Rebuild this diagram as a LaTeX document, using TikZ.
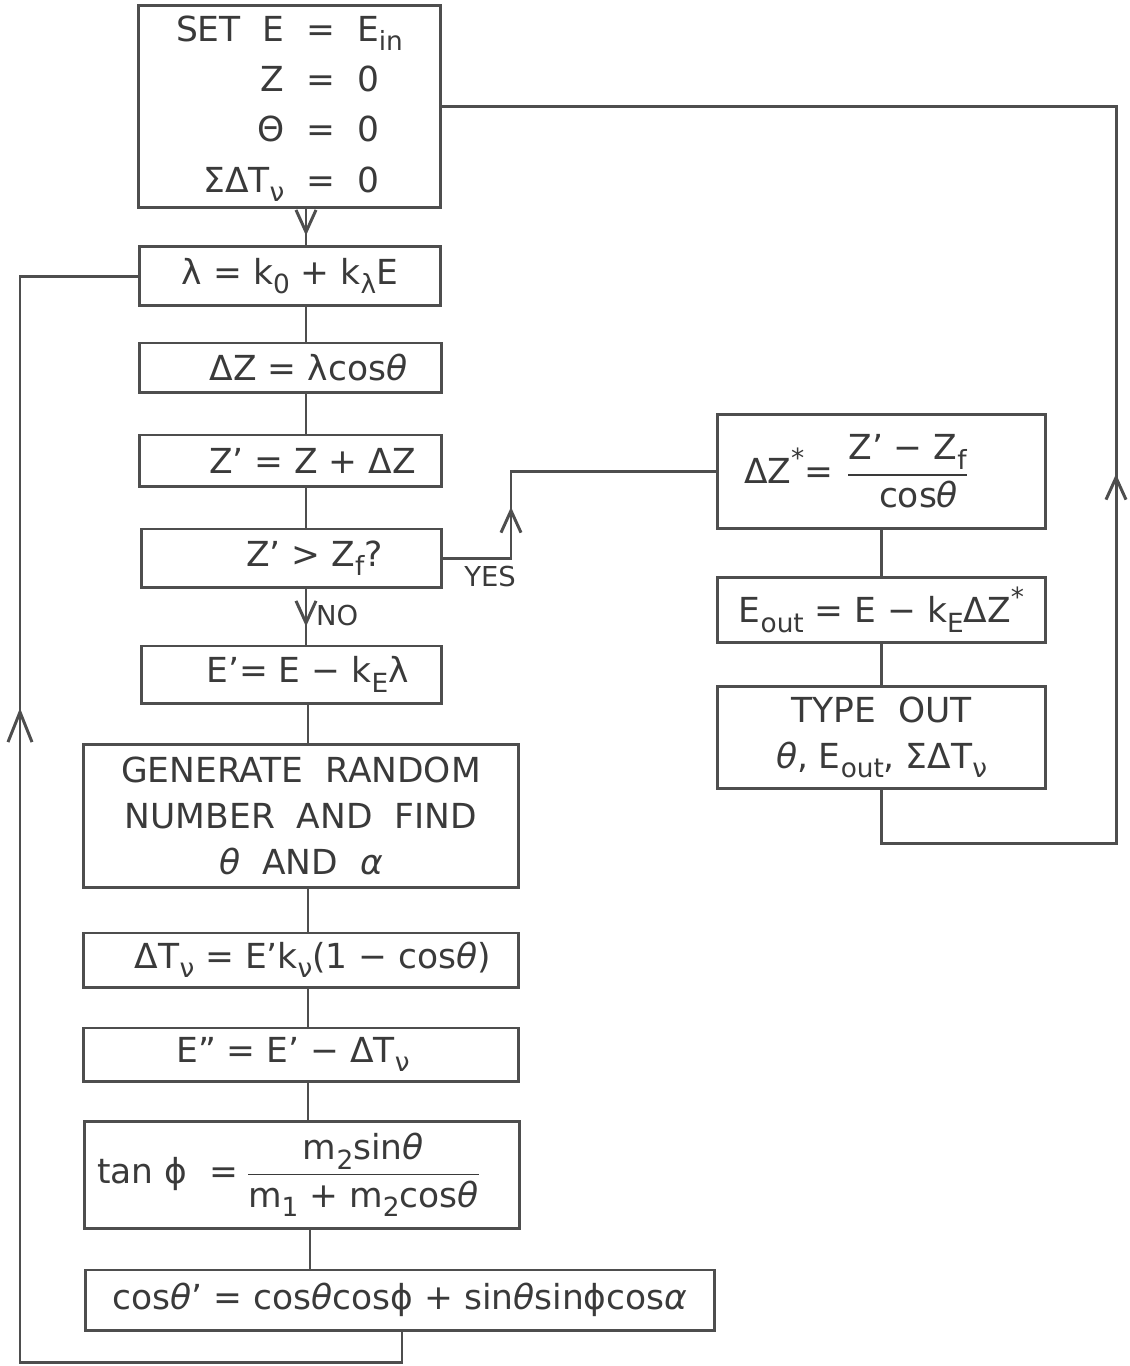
\documentclass[tikz,border=0pt]{standalone}
\usepackage{fontspec}
\setmainfont{DejaVu Sans}
\usetikzlibrary{arrows.meta}
\definecolor{ln}{HTML}{4E4E4E}
\definecolor{tx}{HTML}{3A3A3A}
\newcommand\lsub[1]{\raisebox{-0.5ex}{\fontsize{7.5}{8}\selectfont #1}}
\newcommand\lsup[1]{\raisebox{0.85ex}{\fontsize{7.5}{8}\selectfont #1}}
\newcommand\thi{\textit{θ}}
\begin{document}
\begin{tikzpicture}[x=0.01cm,y=-0.01cm,
  bx/.style={draw=ln,line width=0.85pt,rectangle,inner sep=0pt,text=tx,
             font=\fontsize{9.8}{13}\selectfont,align=center},
  wire/.style={draw=ln,line width=0.85pt},
  chev/.style={wire,-{Straight Barb[length=0.22cm,width=0.2cm]}},
  bigchev/.style={wire,-{Straight Barb[length=0.3cm,width=0.24cm]}},
  lbl/.style={text=tx,font=\fontsize{7.8}{9}\selectfont,inner sep=1pt}]
\useasboundingbox (0,0) rectangle (1130,1366);
\fill[white] (0,0) rectangle (1130,1366);

% main column
\node[bx,minimum width=3.01cm,minimum height=1.99cm] (top) at (289.5,106.5)
  {\renewcommand\arraystretch{1.1}\begin{tabular}{@{}r@{\ \ =\ \ }l@{}}
   SET\ \ E & E\lsub{in}\\ Z & 0\\ Θ & 0\\ ΣΔT\lsub{ν} & 0\end{tabular}};
\node[bx,minimum width=3.00cm,minimum height=0.58cm] (lam) at (290,276)
  {λ = k\lsub{0} + k\lsub{λ}E};
\node[bx,minimum width=3.01cm,minimum height=0.49cm] (dz) at (290.5,367.5)
  {\hspace*{0.36cm}ΔZ = λcos\thi};
\node[bx,minimum width=3.01cm,minimum height=0.51cm] (zp) at (290.5,460.5)
  {\hspace*{0.44cm}Z' = Z + ΔZ};
\node[bx,minimum width=2.99cm,minimum height=0.58cm] (test) at (291.5,558)
  {\hspace*{0.46cm}Z' > Z\lsub{f}?};
\node[bx,minimum width=2.99cm,minimum height=0.57cm] (ep) at (291.5,674.5)
  {\hspace*{0.32cm}E'= E − k\lsub{E}λ};
\node[bx,minimum width=4.34cm,minimum height=1.42cm] (gen) at (301,816)
  {GENERATE\ \ RANDOM\\NUMBER\ \ AND\ \ FIND\\\thi\ \ AND\ \ \textit{α}};
\node[bx,minimum width=4.34cm,minimum height=0.54cm] (dt) at (301,960)
  {\hspace*{0.24cm}ΔT\lsub{ν} = E'k\lsub{ν}(1 − cos\thi)};
\node[bx,minimum width=4.34cm,minimum height=0.53cm] (epp) at (301,1054.5)
  {E" = E' − ΔT\lsub{ν}\hspace*{0.16cm}};
\node[bx,minimum width=4.34cm,minimum height=1.06cm] (tan) at (302,1175)
  {tan ϕ\ \ =\,$\displaystyle\frac{\mbox{m\lsub{2}sin\thi}}{\mbox{m\lsub{1} + m\lsub{2}cos\thi}}$\hspace*{0.24cm}};
\node[bx,minimum width=6.28cm,minimum height=0.60cm] (cos) at (400,1300)
  {cos\thi' = cos\thi cosϕ + sin\thi sinϕcos\textit{α}};

% right column
\node[bx,minimum width=3.27cm,minimum height=1.13cm] (dzs) at (881.5,471.5)
  {ΔZ\lsup{*}= $\displaystyle\frac{\mbox{Z' − Z\lsub{f}}}{\mbox{\ \ cos\thi}}$\hspace*{0.48cm}};
\node[bx,minimum width=3.27cm,minimum height=0.64cm] (eout) at (881.5,610)
  {E\lsub{out} = E − k\lsub{E}ΔZ\lsup{*}};
\node[bx,minimum width=3.27cm,minimum height=1.01cm] (type) at (881.5,737.5)
  {TYPE\ \ OUT\\\thi, E\lsub{out}, ΣΔT\lsub{ν}};

% spine coordinates
\coordinate (sp) at (306,0);
\coordinate (sq) at (308,0);
\coordinate (sr) at (310,0);
\coordinate (sc) at (402,0);
\coordinate (yx) at (511,0);
\coordinate (bl) at (20,1362);
\coordinate (br) at (402,1362);
\coordinate (rb) at (1116,843);

% main column connectors
\draw[wire] (top.south -| sp) -- (lam.north -| sp);
\draw[chev] (top.south -| sp) -- ++(0,27);
\draw[wire] (lam.south -| sp) -- (dz.north -| sp);
\draw[wire] (dz.south -| sp) -- (zp.north -| sp);
\draw[wire] (zp.south -| sp) -- (test.north -| sp);
\draw[wire] (test.south -| sp) -- (ep.north -| sp);
\draw[chev] (test.south -| sp) -- ++(0,38);
\node[lbl,anchor=west] (no) at (312,616) {NO};
\draw[wire] (ep.south -| sq) -- (gen.north -| sq);
\draw[wire] (gen.south -| sq) -- (dt.north -| sq);
\draw[wire] (dt.south -| sq) -- (epp.north -| sq);
\draw[wire] (epp.south -| sq) -- (tan.north -| sq);
\draw[wire] (tan.south -| sr) -- (cos.north -| sr);

% loop back to lambda
\draw[wire] (cos.south -| sc) -- (br) -- (bl) |- (lam.west);
\draw[bigchev] (bl) -- (20,708);

% YES branch
\draw[wire] (test.east) -| (dzs.west -| yx) -- (dzs.west);
\draw[chev] (test.east -| yx) -- (511,507);
\node[lbl] (yes) at (490,577) {YES};

% right column connectors
\draw[wire] (dzs.south) -- (eout.north);
\draw[wire] (eout.south) -- (type.north);
\draw[wire] (type.south) |- (rb) -- (rb |- top.east) -- (top.east);
\draw[chev] (rb) -- (1116,474);
\end{tikzpicture}
\end{document}
